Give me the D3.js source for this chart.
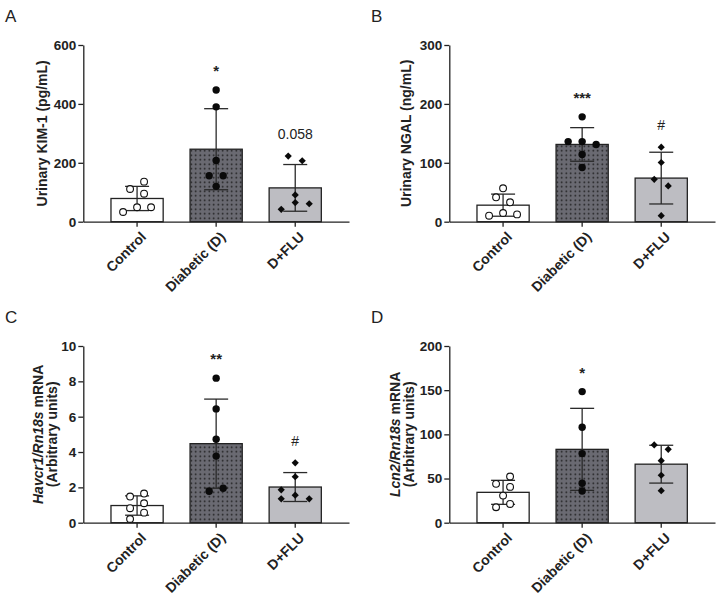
<!DOCTYPE html>
<html><head><meta charset="utf-8">
<script src="https://cdn.jsdelivr.net/npm/d3@7"></script>
<style>
html,body{margin:0;padding:0;background:#fff;}
svg{display:block;font-family:"Liberation Sans",Arial,sans-serif;}
</style></head>
<body>
<svg id="chart" width="720" height="597"></svg>
<script>
// ---------- data ----------
const categories = ["Control", "Diabetic (D)", "D+FLU"];

// Panel A: Urinary KIM-1 (pg/mL)
const kimControl  = [49, 33, 49, 95, 111, 136];
const kimDiabetic = [447, 390, 208, 156, 156, 120];
const kimFlu      = [207, 223, 91, 65, 42, 61];
const kimTicks    = [0, 200, 400, 600];
const kimMarks    = ["", "*", "0.058"];

// Panel B: Urinary NGAL (ng/mL)
const ngalControl  = [56.7, 32.9, 41.4, 14.8, 10.2, 12.4];
const ngalDiabetic = [178, 136, 136, 131, 114, 92];
const ngalFlu      = [126.6, 100.5, 60.8, 72, 10.2];
const ngalTicks    = [0, 100, 200, 300];
const ngalMarks    = ["", "***", "#"];

// Panel C: Havcr1/Rn18s mRNA
const havcrControl  = [1.65, 1.48, 1.10, 0.82, 0.57, 0.21];
const havcrDiabetic = [8.18, 6.44, 4.72, 3.77, 1.95, 1.78];
const havcrFlu      = [3.39, 2.6, 1.56, 1.35, 1.35, 1.86];
const havcrTicks    = [0, 2, 4, 6, 8, 10];
const havcrMarks    = ["", "**", "#"];

// Panel D: Lcn2/Rn18s mRNA
const lcnControl  = [40.5, 44, 52.3, 30.7, 21.2, 17.5];
const lcnDiabetic = [148.4, 108, 78.2, 44.6, 35.9];
const lcnFlu      = [83.1, 88, 70.2, 53.7, 36.2];
const lcnTicks    = [0, 50, 100, 150, 200];
const lcnMarks    = ["", "*", ""];

// ---------- panel layout ----------
const panels = [
  {letter: "A", ox: 0,   oy: 0,   groups: [kimControl, kimDiabetic, kimFlu], ticks: kimTicks, marks: kimMarks,
   label: [[{t: "Urinary KIM-1 (pg/mL)"}]], labelX: [42]},
  {letter: "B", ox: 366, oy: 0,   groups: [ngalControl, ngalDiabetic, ngalFlu], ticks: ngalTicks, marks: ngalMarks,
   label: [[{t: "Urinary NGAL (ng/mL)"}]], labelX: [40]},
  {letter: "C", ox: 0,   oy: 301, groups: [havcrControl, havcrDiabetic, havcrFlu], ticks: havcrTicks, marks: havcrMarks,
   label: [[{t: "Havcr1/Rn18s", i: true}, {t: " mRNA"}], [{t: "(Arbitrary units)"}]], labelX: [38, 52]},
  {letter: "D", ox: 366, oy: 301, groups: [lcnControl, lcnDiabetic, lcnFlu], ticks: lcnTicks, marks: lcnMarks,
   label: [[{t: "Lcn2/Rn18s", i: true}, {t: " mRNA"}], [{t: "(Arbitrary units)"}]], labelX: [29, 43]}
];

const INK = "#222";
const fills = ["#ffffff", "url(#dots)", "#bdbdc2"];

const svg = d3.select("#chart");
svg.append("rect").attr("width", 720).attr("height", 597).attr("fill", "#fff");

const defs = svg.append("defs");
const pat = defs.append("pattern").attr("id", "dots").attr("patternUnits", "userSpaceOnUse")
  .attr("width", 4.5).attr("height", 4.5);
pat.append("rect").attr("width", 4.5).attr("height", 4.5).attr("fill", "#6a6a72");
pat.append("circle").attr("cx", 2.25).attr("cy", 2.25).attr("r", 0.8).attr("fill", "#151515");

// horizontal dodge of points with close values (computed, not typed)
function dodge(vals, y, step, dyMin) {
  const placed = [];
  vals.forEach(v => {
    const py = y(v);
    let off = 0;
    for (const k of [0, -1, 1, -2, 2, -3, 3]) {
      const x = k * step;
      if (!placed.some(p => Math.abs(p.x - x) < step - 0.01 && Math.abs(p.y - py) < dyMin)) { off = x; break; }
    }
    placed.push({v, x: off, y: py});
  });
  // centre clusters of neighbouring points
  const sorted = placed.slice().sort((a, b) => a.y - b.y);
  let cluster = [sorted[0]];
  const flush = c => {
    const mn = d3.min(c, p => p.x), mx = d3.max(c, p => p.x);
    const s = -(mn + mx) / 2;
    c.forEach(p => p.x += s);
  };
  for (let i = 1; i < sorted.length; i++) {
    if (sorted[i].y - sorted[i - 1].y < dyMin) cluster.push(sorted[i]);
    else { flush(cluster); cluster = [sorted[i]]; }
  }
  flush(cluster);
  return placed;
}

panels.forEach(P => {
  const g = svg.append("g").attr("transform", `translate(${P.ox},${P.oy})`);
  const left = 83.3, right = 349, top = 45, bottom = 221.7;

  const x = d3.scaleBand().domain(categories).range([left, right]).paddingInner(0.34).paddingOuter(0.35);
  const y = d3.scaleLinear().domain([P.ticks[0], P.ticks[P.ticks.length - 1]]).range([bottom, top]);

  // panel letter
  g.append("text").attr("x", 5).attr("y", 22).attr("font-size", 17).attr("fill", INK).text(P.letter);

  // bars
  const stats = P.groups.map(v => ({mean: d3.mean(v), sd: d3.deviation(v)}));
  categories.forEach((c, i) => {
    const st = stats[i];
    g.append("rect")
      .attr("x", x(c)).attr("width", x.bandwidth())
      .attr("y", y(st.mean)).attr("height", y(0) - y(st.mean))
      .attr("fill", fills[i]).attr("stroke", INK).attr("stroke-width", 1.3);
  });

  // axes
  const yAxis = d3.axisLeft(y).tickValues(P.ticks).tickSize(5).tickSizeOuter(0).tickPadding(2).tickFormat(d3.format("d"));
  const ya = g.append("g").attr("transform", `translate(${left},0)`).call(yAxis);
  const xAxis = d3.axisBottom(x).tickSize(5).tickSizeOuter(0).tickFormat("");
  const xa = g.append("g").attr("transform", `translate(0,${bottom})`).call(xAxis);
  [ya, xa].forEach(a => {
    a.select(".domain").attr("stroke", INK).attr("stroke-width", 1.3);
    a.selectAll(".tick line").attr("stroke", INK).attr("stroke-width", 1.3);
  });
  ya.selectAll(".tick text").attr("font-size", 13.5).attr("font-weight", "bold").attr("fill", INK)
    .attr("font-family", "Liberation Sans, Arial, sans-serif");

  // category labels, rotated
  categories.forEach(c => {
    g.append("text")
      .attr("transform", `translate(${x(c) + x.bandwidth() / 2 + 3},${bottom + 9}) rotate(-45)`)
      .attr("text-anchor", "end").attr("dy", "0.71em")
      .attr("font-size", 14).attr("font-weight", "bold").attr("fill", INK).text(c);
  });

  // y label
  const cy = (top + bottom) / 2;
  P.label.forEach((line, li) => {
    const t = g.append("text")
      .attr("transform", `translate(${P.labelX[li]},${cy}) rotate(-90)`)
      .attr("text-anchor", "middle").attr("dy", "0.35em")
      .attr("font-size", 14).attr("font-weight", "bold").attr("fill", INK);
    line.forEach(seg => {
      t.append("tspan").attr("font-style", seg.i ? "italic" : "normal").text(seg.t);
    });
  });

  // error bars, points, significance marks
  categories.forEach((c, i) => {
    const cx = x(c) + x.bandwidth() / 2;
    const st = stats[i];
    const hi = st.mean + st.sd, lo = st.mean - st.sd;
    const eg = g.append("g").attr("stroke", "#2a2a2a").attr("stroke-width", 1.3);
    eg.append("line").attr("x1", cx).attr("x2", cx).attr("y1", y(hi)).attr("y2", y(lo));
    eg.append("line").attr("x1", cx - 12).attr("x2", cx + 12).attr("y1", y(hi)).attr("y2", y(hi));
    eg.append("line").attr("x1", cx - 12).attr("x2", cx + 12).attr("y1", y(lo)).attr("y2", y(lo));

    const pts = dodge(P.groups[i], y, 14, 7.5);
    pts.forEach(p => {
      if (i === 0) {
        g.append("circle").attr("cx", cx + p.x).attr("cy", p.y).attr("r", 3.4)
          .attr("fill", "#fff").attr("stroke", "#111").attr("stroke-width", 1.1);
      } else if (i === 1) {
        g.append("circle").attr("cx", cx + p.x).attr("cy", p.y).attr("r", 3.7).attr("fill", "#0a0a0a");
      } else {
        g.append("path").attr("d", d3.symbol(d3.symbolSquare, 26)())
          .attr("transform", `translate(${cx + p.x},${p.y}) rotate(45)`).attr("fill", "#0a0a0a");
      }
    });

    const m = P.marks[i];
    if (m) {
      const topVal = Math.max(d3.max(P.groups[i]), hi);
      const center = y(topVal) - 22;
      const isStar = /^\*+$/.test(m);
      g.append("text").attr("x", cx).attr("y", center + (isStar ? 8 : 5))
        .attr("text-anchor", "middle").attr("font-size", isStar ? 15 : 14)
        .attr("font-weight", isStar ? "bold" : "normal").attr("fill", INK).text(m);
    }
  });
});
</script>
</body></html>
